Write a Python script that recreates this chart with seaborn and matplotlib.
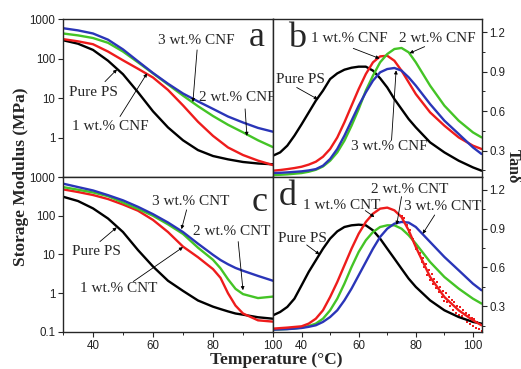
import matplotlib
matplotlib.use('Agg')
import pandas as pd
import matplotlib.pyplot as plt
import seaborn as sns
from matplotlib.ticker import MultipleLocator, NullLocator

# Storage modulus (MPa), CNF composites (panel a)
temps_a = [30, 35, 40, 45, 50, 55, 60, 65, 70, 75, 80, 85, 90, 95, 100]
ps_a = [290, 237, 165, 88, 40, 14, 4.6, 1.8, 0.85, 0.48, 0.34, 0.28, 0.24, 0.22, 0.21]
cnf1_a = [310, 272, 230, 150, 90, 55, 33, 16, 6.5, 2.5, 1.1, 0.56, 0.36, 0.26, 0.2]
cnf2_a = [430, 385, 330, 250, 150, 80, 42, 22, 11.5, 6.2, 3.5, 2.1, 1.35, 0.85, 0.57]
cnf3_a = [585, 515, 430, 300, 170, 85, 43, 23, 13, 8.2, 5.3, 3.4, 2.4, 1.75, 1.4]

# Storage modulus (MPa), CNT composites (panel c)
temps_c = [30, 35, 40, 45, 50, 55, 60, 65, 70, 75, 80, 82.5, 85, 87.5, 90, 95, 100]
ps_c = [310, 240, 155, 85, 38, 13, 4.9, 2.1, 1.15, 0.65, 0.45, 0.39, 0.34, 0.3, 0.28, 0.24, 0.22]
cnt1_c = [480, 410, 343, 270, 195, 135, 78, 38, 16, 8.5, 4.2, 2.5, 1.0, 0.48, 0.3, 0.2, 0.185]
cnt2_c = [550, 470, 400, 320, 220, 150, 100, 60, 34, 15, 7.3, 4.4, 2.3, 1.3, 0.95, 0.75, 0.82]
cnt3_c = [675, 550, 450, 340, 250, 170, 110, 67, 38, 19, 9.8, 7.2, 5.6, 4.5, 3.8, 2.8, 2.1]

# tan delta (panels b and d share the temperature grid)
temps_tan = [30, 32.5, 35, 37.5, 40, 42.5, 45, 47.5, 50, 52.5, 55, 57.5, 60, 62.5, 65, 67.5,
             70, 72.5, 75, 77.5, 80, 85, 90, 95, 100, 103]
ps_b = [0.262, 0.287, 0.338, 0.414, 0.5, 0.59, 0.68, 0.756, 0.844, 0.887, 0.915, 0.93, 0.938,
        0.938, 0.908, 0.85, 0.78, 0.692, 0.616, 0.54, 0.477, 0.363, 0.287, 0.224, 0.173, 0.148]
cnf1_b = [0.148, 0.153, 0.16, 0.168, 0.178, 0.194, 0.216, 0.254, 0.313, 0.4, 0.515, 0.642, 0.768,
          0.882, 0.971, 1.016, 1.021, 0.983, 0.908, 0.819, 0.73, 0.591, 0.49, 0.401, 0.338, 0.313]
cnf2_b = [0.115, 0.117, 0.12, 0.125, 0.13, 0.14, 0.155, 0.18, 0.224, 0.287, 0.376, 0.49, 0.616,
          0.756, 0.87, 0.971, 1.034, 1.072, 1.08, 1.047, 0.971, 0.794, 0.642, 0.528, 0.439, 0.401]
cnf3_b = [0.13, 0.132, 0.135, 0.139, 0.143, 0.15, 0.16, 0.186, 0.237, 0.313, 0.414, 0.528, 0.642,
          0.743, 0.832, 0.895, 0.92, 0.928, 0.908, 0.857, 0.794, 0.654, 0.528, 0.427, 0.325, 0.275]
ps_d = [0.229, 0.255, 0.294, 0.358, 0.461, 0.565, 0.655, 0.745, 0.823, 0.879, 0.913, 0.926, 0.931,
        0.926, 0.887, 0.823, 0.745, 0.668, 0.59, 0.513, 0.449, 0.345, 0.268, 0.216, 0.178, 0.165]
cnt1_d = [0.126, 0.13, 0.134, 0.139, 0.144, 0.165, 0.203, 0.268, 0.371, 0.487, 0.616, 0.745, 0.861,
          0.952, 1.016, 1.055, 1.063, 1.042, 0.99, 0.887, 0.758, 0.526, 0.371, 0.268, 0.191, 0.152]
cnt2_d = [0.118, 0.12, 0.123, 0.128, 0.134, 0.146, 0.165, 0.203, 0.268, 0.358, 0.474, 0.603, 0.72,
          0.81, 0.874, 0.913, 0.926, 0.926, 0.9, 0.849, 0.784, 0.642, 0.526, 0.436, 0.358, 0.32]
cnt3_d = [0.118, 0.12, 0.122, 0.126, 0.131, 0.14, 0.152, 0.178, 0.216, 0.268, 0.345, 0.436, 0.539,
          0.642, 0.745, 0.836, 0.9, 0.939, 0.952, 0.947, 0.913, 0.797, 0.681, 0.578, 0.474, 0.423]
# scattered (noisy) tail of the 1 wt.% CNT tan delta data
tail_t = [75, 75.5, 76, 76.5, 77, 77.5, 78, 78.5, 79, 79.5, 80, 80.5, 81, 81.5, 82, 82.5, 83, 83.5,
          84, 84.5, 85, 85.5, 86, 86.5, 87, 87.5, 88, 88.5, 89, 89.5, 90, 90.5, 91, 91.5, 92, 92.5,
          93, 93.5, 94, 94.5, 95, 95.5, 96, 96.5, 97, 97.5, 98, 98.5, 99, 99.5, 100, 100.5, 101,
          101.5, 102, 102.5, 103]
tail_v = [1.0, 0.975, 0.985, 0.93, 0.93, 0.875, 0.89, 0.83, 0.82, 0.79, 0.74, 0.75, 0.7, 0.71, 0.64,
          0.67, 0.6, 0.63, 0.54, 0.58, 0.5, 0.55, 0.47, 0.51, 0.44, 0.49, 0.41, 0.45, 0.37, 0.42,
          0.34, 0.4, 0.33, 0.37, 0.3, 0.35, 0.27, 0.33, 0.25, 0.3, 0.23, 0.29, 0.22, 0.27, 0.2, 0.25,
          0.18, 0.23, 0.16, 0.21, 0.15, 0.2, 0.13, 0.18, 0.12, 0.16, 0.11]

colors = {'ps': '#000000', '1': '#ee1c1c', '2': '#44c426', '3': '#2a35b8'}

sns.set_style('ticks')
plt.rcParams['font.family'] = ['Liberation Sans', 'DejaVu Sans']
plt.rcParams['axes.linewidth'] = 1.0
serif = ['Liberation Serif', 'DejaVu Serif']

fig = plt.figure(figsize=(5.21, 3.69), dpi=100)
ax_a = fig.add_axes([0.1209, 0.5203, 0.4031, 0.4282])
ax_b = fig.add_axes([0.524, 0.5203, 0.4002, 0.4282])
ax_c = fig.add_axes([0.1209, 0.1003, 0.4031, 0.42])
ax_d = fig.add_axes([0.524, 0.1003, 0.4002, 0.42])


def draw(ax, t, series):
    for key, vals in series:
        df = pd.DataFrame({'T': t, 'v': vals})
        sns.lineplot(data=df, x='T', y='v', ax=ax, color=colors[key], lw=1.7)


draw(ax_a, temps_a, [('ps', ps_a), ('1', cnf1_a), ('2', cnf2_a), ('3', cnf3_a)])
draw(ax_c, temps_c, [('ps', ps_c), ('1', cnt1_c), ('2', cnt2_c), ('3', cnt3_c)])
draw(ax_b, temps_tan, [('ps', ps_b), ('1', cnf1_b), ('2', cnf2_b), ('3', cnf3_b)])
draw(ax_d, temps_tan, [('ps', ps_d), ('2', cnt2_d), ('3', cnt3_d), ('1', cnt1_d)])
tail = pd.DataFrame({'T': tail_t, 'v': tail_v})
sns.scatterplot(data=tail, x='T', y='v', ax=ax_d, color=colors['1'], marker='s', s=3,
                linewidth=0)

for ax in (ax_a, ax_c):
    ax.set_yscale('log')
    ax.set_ylim(0.1, 1000)
    ax.set_xlim(30, 100)
    ax.set_yticks([0.1, 1, 10, 100, 1000])
    ax.yaxis.set_minor_locator(NullLocator())
ax_a.set_yticklabels(['', '1', '10', '100', '1000'])
ax_c.set_yticklabels(['0.1', '1', '10', '100', '1000'])

for ax in (ax_b, ax_d):
    ax.set_xlim(30, 103)
    ax.set_ylim(0.1, 1.3)
    ax.yaxis.tick_right()
    ax.set_yticks([0.3, 0.6, 0.9, 1.2])
    ax.set_yticklabels(['0.3', '0.6', '0.9', '1.2'])
    ax.yaxis.set_minor_locator(MultipleLocator(0.15))

for ax in (ax_a, ax_b, ax_c, ax_d):
    ax.set_xticks([40, 60, 80, 100])
    ax.xaxis.set_minor_locator(MultipleLocator(10))
    ax.tick_params(which='major', direction='out', length=3.5, width=0.8,
                   labelsize=8.3, labelcolor='#222222', pad=2)
    ax.tick_params(which='minor', direction='out', length=2, width=0.7)
    ax.set_xlabel('')
    ax.set_ylabel('')
    for s in ax.spines.values():
        s.set_visible(True)
ax_a.tick_params(labelbottom=False)
ax_b.tick_params(labelbottom=False)

# annotations
txt = dict(fontsize=11, family=serif, ha='center', va='center')
arr = dict(arrowstyle='-|>', lw=0.6, color='k', mutation_scale=5, shrinkA=0, shrinkB=0)


def note(ax, label, xy, xytext, tail_xy):
    ax.text(xytext[0], xytext[1], label, **txt)
    ax.annotate('', xy=xy, xytext=tail_xy, arrowprops=arr)


note(ax_a, 'Pure PS', (48, 53), (40.2, 14), (44, 26))
note(ax_a, '1 wt.% CNF', (58, 42), (45.7, 1.9), (49, 3.4))
note(ax_a, '3 wt.% CNF', (73.3, 7.9), (74.3, 290), (74.7, 165))
note(ax_a, '2 wt.% CNF', (91.3, 1.1), (88, 10.6), (90.7, 5.3))

note(ax_c, 'Pure PS', (47.9, 50), (41.2, 11.7), (42.3, 21.5))
note(ax_c, '1 wt.% CNT', (70, 15.5), (48.4, 1.35), (53.4, 2.0))
note(ax_c, '3 wt.% CNT', (69.5, 45), (72.6, 230), (71.2, 142))
note(ax_c, '2 wt.% CNT', (90, 1.2), (86.2, 39), (88.4, 21.5))

note(ax_b, '1 wt.% CNF', (67.3, 1.0), (56.6, 1.153), (58.1, 1.077))
note(ax_b, '2 wt.% CNF', (77.8, 1.04), (87.6, 1.153), (83.1, 1.09))
note(ax_b, 'Pure PS', (45.7, 0.69), (39.7, 0.837), (38.3, 0.78))
note(ax_b, '3 wt.% CNF', (73.1, 0.91), (70.6, 0.33), (71.5, 0.38))

note(ax_d, '1 wt.% CNT', (65.5, 0.99), (54, 1.083), (62.3, 1.04))
note(ax_d, '2 wt.% CNT', (73.3, 0.93), (77.9, 1.2), (75, 1.148))
note(ax_d, '3 wt.% CNT', (82.4, 0.86), (89.3, 1.07), (86.6, 1.006))
note(ax_d, 'Pure PS', (46.3, 0.7), (40.3, 0.825), (41.8, 0.774))

letter = dict(fontsize=26, family=serif, ha='center', va='center')
ax_a.text(94.7, 335, 'a', **letter)
ax_c.text(95.7, 224, 'c', **letter)
ax_b.text(38.3, 1.15, 'b', **letter)
ax_d.text(35.3, 1.15, 'd', **letter)

fig.text(0.04, 0.52, 'Storage Modulus (MPa)', rotation=90, ha='center', va='center',
         fontsize=12.5, fontweight='bold', family=serif)
fig.text(0.53, 0.025, 'Temperature (°C)', ha='center', va='center',
         fontsize=12.5, fontweight='bold', family=serif)
fig.text(0.984, 0.55, 'Tanδ', rotation=270, ha='center', va='center',
         fontsize=11.5, fontweight='bold', family=serif)

fig.savefig('out.png', dpi=100)
